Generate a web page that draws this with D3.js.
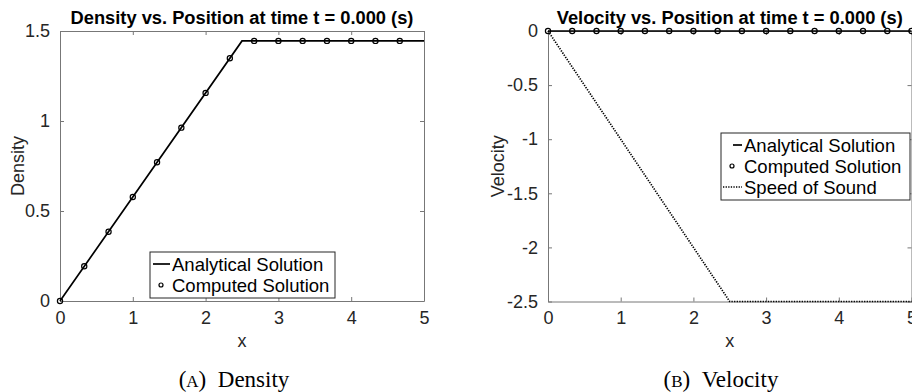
<!DOCTYPE html>
<html>
<head>
<meta charset="utf-8">
<script src="https://cdn.jsdelivr.net/npm/d3@7"></script>
<style>
  body { margin: 0; background: #fff; }
  svg { display: block; }
</style>
</head>
<body>
<svg id="chart" width="912" height="392"></svg>
<script>
// data
const xTicks = [0, 1, 2, 3, 4, 5];
const densityTicks = [0, 0.5, 1, 1.5];
const velocityTicks = [0, -0.5, -1, -1.5, -2, -2.5];

const analyticX = [0, 2.5, 5];
const analyticDensity = [0, 1.445, 1.445];
const analyticVelocity = [0, 0, 0];
const soundSpeed = [0, -2.5, -2.5];

const computedX = [0, 0.333, 0.667, 1, 1.333, 1.667, 2, 2.333, 2.667, 3, 3.333, 3.667, 4, 4.333, 4.667];
const computedDensity = [0, 0.193, 0.385, 0.578, 0.771, 0.963, 1.156, 1.349, 1.445, 1.445, 1.445, 1.445, 1.445, 1.445, 1.445];
const computedVelX = [0, 0.333, 0.667, 1, 1.333, 1.667, 2, 2.333, 2.667, 3, 3.333, 3.667, 4, 4.333, 4.667, 5];
const computedVelocity = [0, 0, 0, 0, 0, 0, 0, 0, 0, 0, 0, 0, 0, 0, 0, 0];

const AXIS = "#777";
const TEXT = "#262626";
const FONT = "'Liberation Sans', Arial, sans-serif";

const svg = d3.select("#chart");

function panel(o) {
  const x = d3.scaleLinear().domain([0, 5]).range([o.left, o.right]);
  const y = d3.scaleLinear().domain(o.yDomain).range([o.bottom, o.top]);
  const g = svg.append("g");

  // box with inward ticks (matlab style, plain hyphen minus)
  const axes = [
    [d3.axisBottom(x), `translate(0,${o.bottom})`, xTicks, true],
    [d3.axisTop(x), `translate(0,${o.top})`, xTicks, false],
    [d3.axisLeft(y), `translate(${o.left},0)`, o.yTicks, true],
    [d3.axisRight(y), `translate(${o.right},0)`, o.yTicks, false]
  ];
  axes.forEach(([ax, tr, ticks, labels]) => {
    const a = g.append("g").attr("transform", tr)
      .call(ax.tickValues(ticks).tickSizeInner(-4).tickSizeOuter(0)
        .tickPadding(labels ? 10 : 0)
        .tickFormat(labels ? (d => String(d)) : ""));
    a.select(".domain").attr("stroke", AXIS).attr("stroke-width", 1);
    a.selectAll(".tick line").attr("stroke", AXIS);
    a.selectAll("text").attr("fill", TEXT).style("font-family", FONT).style("font-size", "18px");
  });

  // lines
  const line = d3.line().x(d => x(d[0])).y(d => y(d[1]));
  if (o.sound) {
    g.append("path").datum(analyticX.map((v, i) => [v, o.sound[i]]))
      .attr("d", line).attr("fill", "none").attr("stroke", "#000")
      .attr("stroke-width", 1.7).attr("stroke-dasharray", "1.3,1.3");
  }
  g.append("path").datum(analyticX.map((v, i) => [v, o.analytic[i]]))
    .attr("d", line).attr("fill", "none").attr("stroke", "#000").attr("stroke-width", 1.7);

  g.selectAll("circle.pt").data(o.cx.map((v, i) => [v, o.cy[i]])).join("circle")
    .attr("class", "pt")
    .attr("cx", d => x(d[0])).attr("cy", d => y(d[1])).attr("r", 2.6)
    .attr("fill", "none").attr("stroke", "#000").attr("stroke-width", 1.2);

  // title & labels
  svg.append("text").attr("x", (o.left + o.right) / 2).attr("y", 24)
    .attr("text-anchor", "middle").style("font-family", FONT).style("font-size", "18.3px")
    .style("font-weight", "bold").attr("fill", "#000").text(o.title);
  svg.append("text").attr("x", (o.left + o.right) / 2).attr("y", 347)
    .attr("text-anchor", "middle").style("font-family", FONT).style("font-size", "18px")
    .attr("fill", TEXT).text("x");
  svg.append("text").attr("transform", `translate(${o.ylabelX},${(o.top + o.bottom) / 2}) rotate(-90)`)
    .attr("text-anchor", "middle").style("font-family", FONT).style("font-size", "18px")
    .attr("fill", TEXT).text(o.ylabel);

  // legend
  const L = o.legend;
  const lg = svg.append("g");
  lg.append("rect").attr("x", L.x).attr("y", L.y).attr("width", L.w).attr("height", L.h)
    .attr("fill", "#fff").attr("stroke", "#262626").attr("stroke-width", 1);
  L.items.forEach((it, i) => {
    const cy = L.y + 12 + i * 21;
    if (it.type === "line") {
      lg.append("line").attr("x1", L.sx1).attr("x2", L.sx2).attr("y1", cy).attr("y2", cy)
        .attr("stroke", "#000").attr("stroke-width", 1.7);
    } else if (it.type === "dot") {
      lg.append("line").attr("x1", L.dx1).attr("x2", L.sx2).attr("y1", cy).attr("y2", cy)
        .attr("stroke", "#000").attr("stroke-width", 1.7).attr("stroke-dasharray", "1.3,1.3");
    } else {
      lg.append("circle").attr("cx", L.mx).attr("cy", cy).attr("r", 2)
        .attr("fill", "none").attr("stroke", "#000").attr("stroke-width", 1.2);
    }
    lg.append("text").attr("x", L.tx).attr("y", cy + 7).style("font-family", FONT)
      .style("font-size", "18.5px").attr("fill", "#000").text(it.label);
  });

  // caption
  const cap = svg.append("text").attr("x", o.capX).attr("y", 387).attr("text-anchor", "middle")
    .style("font-family", "'Liberation Serif', 'DejaVu Serif', serif").style("font-size", "23px").attr("fill", "#000");
  cap.append("tspan").text("(");
  cap.append("tspan").style("font-size", "17px").text(o.capLetter);
  cap.append("tspan").text(")\u2002" + o.capText);
}

panel({
  left: 60, right: 424, top: 31, bottom: 301,
  yDomain: [0, 1.5], yTicks: densityTicks,
  analytic: analyticDensity, cx: computedX, cy: computedDensity,
  title: "Density vs. Position at time t = 0.000 (s)",
  ylabel: "Density", ylabelX: 24,
  capX: 234, capLetter: "A", capText: "Density",
  legend: {
    x: 150, y: 252, w: 185, h: 46, sx1: 153, sx2: 170, mx: 161, tx: 172,
    items: [{ type: "line", label: "Analytical Solution" }, { type: "circle", label: "Computed Solution" }]
  }
});

panel({
  left: 548, right: 911.5, top: 31, bottom: 301.5,
  yDomain: [-2.5, 0], yTicks: velocityTicks,
  analytic: analyticVelocity, sound: soundSpeed, cx: computedVelX, cy: computedVelocity,
  title: "Velocity vs. Position at time t = 0.000 (s)",
  ylabel: "Velocity", ylabelX: 504,
  capX: 721, capLetter: "B", capText: "Velocity",
  legend: {
    x: 721, y: 133, w: 189, h: 67, sx1: 733, sx2: 742, dx1: 723, mx: 732, tx: 744,
    items: [{ type: "line", label: "Analytical Solution" }, { type: "circle", label: "Computed Solution" },
            { type: "dot", label: "Speed of Sound" }]
  }
});
</script>
</body>
</html>
